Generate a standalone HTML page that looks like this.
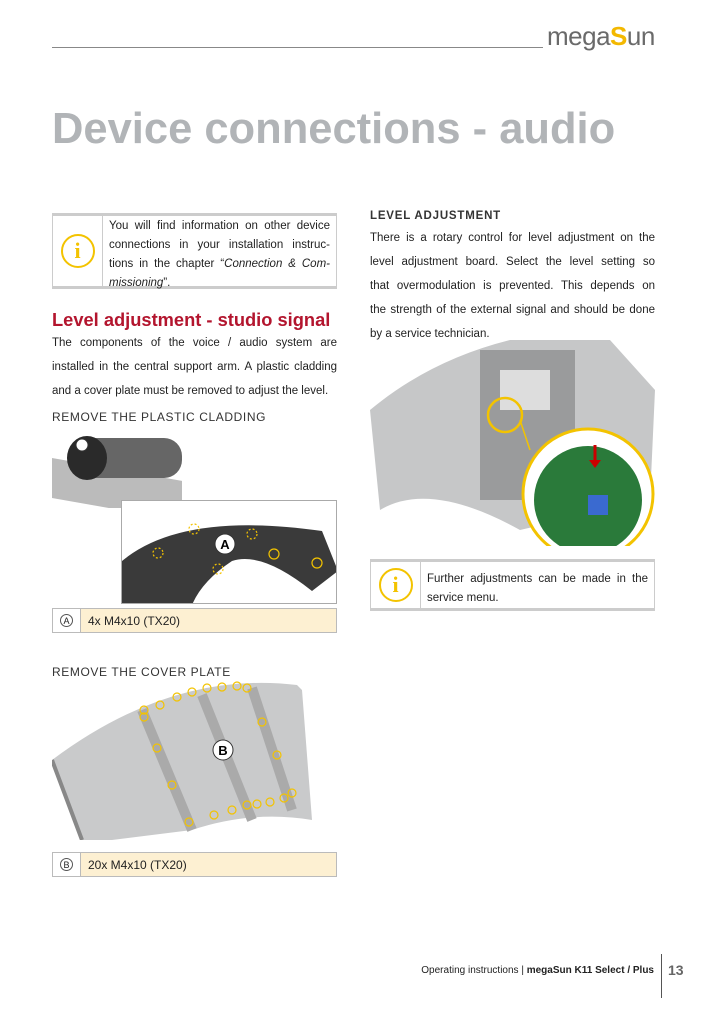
<!DOCTYPE html>
<html><head><meta charset="utf-8"><style>
*{margin:0;padding:0;box-sizing:border-box}
body{width:724px;height:1024px;background:#fff;position:relative;font-family:"Liberation Sans",Arial,sans-serif;color:#222;overflow:hidden}
.a{position:absolute}
.t{font-size:11.5px;line-height:24px;color:#222}
.box{border-top:2px solid #ccc;border-bottom:2px solid #ccc;}
.inner{border:1px solid #ccc;display:flex;height:100%}
.ic{width:50px;border-right:1px solid #ccc;display:flex;align-items:center;justify-content:center}
.ic span{width:34px;height:34px;border:2.5px solid #f3c300;border-radius:50%;color:#f3c300;font:bold 22px "Liberation Serif",serif;display:flex;align-items:center;justify-content:center}
.up{font-size:12px;letter-spacing:.6px;color:#333}
.leg{display:flex;border:1px solid #bbb;height:25px;font-size:12px}
.leg .l{width:28px;border-right:1px solid #bbb;display:flex;align-items:center;justify-content:center;background:#fff}
.leg .l span{width:13px;height:13px;border:1px solid #555;border-radius:50%;font-size:9px;display:flex;align-items:center;justify-content:center}
.leg .r{flex:1;background:#fdf0d2;padding-left:7px;display:flex;align-items:center}
.j{text-align:justify;text-align-last:justify;white-space:nowrap}
.n{white-space:nowrap}
</style></head><body>
<div class="a" style="left:52px;top:47px;width:491px;height:1px;background:#888"></div>
<div class="a" style="left:547px;top:21px;font-size:26px;color:#6a6a6a;letter-spacing:-0.5px">mega<span style="color:#f3b800;font-weight:bold">S</span>un</div>
<div class="a" style="left:52px;top:105px;font-size:43.5px;font-weight:bold;color:#b1b4b7">Device connections - audio</div>

<div class="a box" style="left:52px;top:213px;width:285px;height:76px"><div class="inner"><div class="ic"><span>i</span></div>
<div style="flex:1;padding:1px 6px;font-size:11.5px;line-height:19px"><div class="j">You will find information on other device</div><div class="j">connections in your installation instruc-</div><div class="j">tions in the chapter “<i>Connection &amp; Com-</i></div><div class="n"><i>missioning</i>”.</div></div></div></div>

<div class="a" style="left:52px;top:309px;font-size:18.3px;font-weight:bold;color:#b3152e">Level adjustment - studio signal</div>
<div class="a t" style="left:52px;top:331px;width:285px"><div class="j">The components of the voice / audio system are</div><div class="j">installed in the central support arm. A plastic cladding</div><div class="n">and a cover plate must be removed to adjust the level.</div></div>

<div class="a up" style="left:52px;top:410px">REMOVE THE PLASTIC CLADDING</div>
<div class="a" style="left:52px;top:428px;width:140px;height:80px">
<svg width="140" height="80"><rect x="0" y="30" width="130" height="40" fill="#bbb" transform="skewY(10)"/><rect x="20" y="10" width="110" height="40" rx="18" fill="#666"/><ellipse cx="35" cy="30" rx="20" ry="22" fill="#2a2a2a"/><circle cx="30" cy="17" r="6" fill="#fff" stroke="#333"/></svg></div>
<div class="a" style="left:121px;top:500px;width:216px;height:104px;border:1px solid #aaa;background:#fff;overflow:hidden">
<svg width="216" height="104"><path d="M0 104 L0 60 Q60 10 200 30 L216 70 L190 90 Q140 50 110 60 Q80 80 70 104Z" fill="#3a3a3a"/>
<g fill="none" stroke="#f3c300" stroke-width="1.2" stroke-dasharray="2 2"><circle cx="36" cy="52" r="5"/><circle cx="72" cy="28" r="5"/><circle cx="130" cy="33" r="5"/><circle cx="96" cy="68" r="5"/></g>
<g fill="none" stroke="#f3c300" stroke-width="1.2"><circle cx="152" cy="53" r="5"/><circle cx="195" cy="62" r="5"/></g>
<circle cx="103" cy="43" r="10" fill="#fff" stroke="#333"/><text x="103" y="48" font-size="13" text-anchor="middle" font-family="Liberation Sans" font-weight="bold">A</text></svg></div>
<div class="a leg" style="left:52px;top:608px;width:285px"><div class="l"><span>A</span></div><div class="r">4x M4x10 (TX20)</div></div>

<div class="a up" style="left:52px;top:665px">REMOVE THE COVER PLATE</div>
<div class="a" style="left:52px;top:680px;width:285px;height:160px">
<svg width="285" height="160"><path d="M0 80 Q120 -10 245 5 L250 10 L260 140 Q200 130 140 150 L60 160 L30 160 Z" fill="#c9cacb"/>
<path d="M90 30 L140 150 M150 15 L200 140 M200 8 L240 130" stroke="#aaa" stroke-width="10" fill="none"/>
<path d="M0 80 L30 160" stroke="#888" stroke-width="4"/>
<g fill="none" stroke="#f3c300" stroke-width="1.2"><circle cx="92" cy="37" r="4"/><circle cx="108" cy="25" r="4"/><circle cx="125" cy="17" r="4"/><circle cx="140" cy="12" r="4"/><circle cx="155" cy="8" r="4"/><circle cx="170" cy="7" r="4"/><circle cx="185" cy="6" r="4"/><circle cx="195" cy="8" r="4"/><circle cx="210" cy="42" r="4"/><circle cx="105" cy="68" r="4"/><circle cx="225" cy="75" r="4"/><circle cx="120" cy="105" r="4"/><circle cx="137" cy="142" r="4"/><circle cx="162" cy="135" r="4"/><circle cx="180" cy="130" r="4"/><circle cx="195" cy="125" r="4"/><circle cx="205" cy="124" r="4"/><circle cx="218" cy="122" r="4"/><circle cx="232" cy="118" r="4"/><circle cx="240" cy="113" r="4"/><circle cx="92" cy="30" r="4"/></g>
<circle cx="171" cy="70" r="10" fill="#fff" stroke="#333"/><text x="171" y="75" font-size="13" text-anchor="middle" font-family="Liberation Sans" font-weight="bold">B</text></svg></div>
<div class="a leg" style="left:52px;top:852px;width:285px"><div class="l"><span>B</span></div><div class="r">20x M4x10 (TX20)</div></div>

<div class="a" style="left:370px;top:210px;font-size:11.5px;font-weight:bold;letter-spacing:.8px;color:#333">LEVEL ADJUSTMENT</div>
<div class="a t" style="left:370px;top:226px;width:285px"><div class="j">There is a rotary control for level adjustment on the</div><div class="j">level adjustment board. Select the level setting so</div><div class="j">that overmodulation is prevented. This depends on</div><div class="j">the strength of the external signal and should be done</div><div class="n">by a service technician.</div></div>
<div class="a" style="left:370px;top:330px;width:290px;height:216px">
<svg width="290" height="216"><path d="M0 80 Q60 30 140 10 L240 10 L285 60 L280 170 L150 200 Q60 150 10 180 Z" fill="#c6c7c8"/>
<rect x="110" y="20" width="95" height="150" fill="#9a9b9c"/><rect x="130" y="40" width="50" height="40" fill="#ddd"/>
<circle cx="135" cy="85" r="17" fill="none" stroke="#f3c300" stroke-width="2.5"/>
<path d="M150 90 L160 120" stroke="#f3c300" stroke-width="1.5"/>
<circle cx="218" cy="164" r="65" fill="#fff" stroke="#f3c300" stroke-width="3"/>
<circle cx="218" cy="170" r="54" fill="#2a7a3a"/><rect x="218" y="165" width="20" height="20" fill="#3a6ad0"/>
<path d="M225 115 L225 135" stroke="#c00" stroke-width="3"/><path d="M219 130 L231 130 L225 138Z" fill="#c00"/></svg></div>

<div class="a box" style="left:370px;top:559px;width:285px;height:52px"><div class="inner"><div class="ic"><span>i</span></div>
<div style="flex:1;padding:8px 6px;font-size:11.5px;line-height:19px"><div class="j">Further adjustments can be made in the</div><div class="n">service menu.</div></div></div></div>

<div class="a" style="right:70px;top:965px;font-size:10px;color:#222">Operating instructions | <b>megaSun K11 Select / Plus</b></div>
<div class="a" style="left:661px;top:954px;width:1px;height:44px;background:#555"></div>
<div class="a" style="left:668px;top:962px;font-size:14px;font-weight:bold;color:#666">13</div>
</body></html>
